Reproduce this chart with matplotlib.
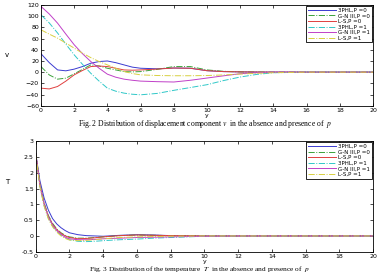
import matplotlib
matplotlib.use('Agg')
import matplotlib.pyplot as plt
import numpy as np

plt.rcParams['mathtext.fontset'] = 'stix'

labels = ['3PHL,P =0', 'G-N III,P =0', 'L-S,P =0', '3PHL,P =1', 'G-N III,P =1', 'L-S,P =1']
colors = ['#3b3bd0', '#3aa23a', '#e04040', '#30c8c8', '#c040c8', '#d8d040']
styles = ['-', '-.', '-', '-.', '-', '-.']

# Fig. 2: displacement v
y_v = [0, 0.5, 1, 1.5, 2, 2.5, 3, 3.5, 4, 4.5, 5, 5.5, 6, 7, 8, 9, 10, 11, 12, 13, 14, 16, 18, 20]
v_3phl_0 = [33, 17, 4, 2.4, 5.4, 10, 16, 19, 20, 17, 13, 9, 7, 6, 7.4, 7, 2.6, 1, 0.5, 0.2, 0, 0, 0, 0]
v_gn_0 = [10, -5, -12.5, -10.7, -3, 5, 13, 11, 7, 4, 1, 0.5, 1, 5, 10, 10, 4, 1.5, 0.5, 0.2, 0, 0, 0, 0]
v_ls_0 = [-28.6, -30, -25.6, -16, -4.8, 3, 10, 11, 10, 7, 4, 3.5, 4, 5.5, 7.4, 7, 2.6, 1, 0.5, 0.2, 0, 0, 0, 0]
v_3phl_1 = [102.5, 88, 70, 50, 31, 14, -2, -16, -28.6, -34, -37.5, -39.5, -40.5, -38, -32.5, -27.5, -22.4, -15, -8.7, -4, -1, 0, 0, 0]
v_gn_1 = [117.6, 104, 87.6, 68, 49, 33, 19, 7, -3.6, -9, -12.5, -14.5, -16, -17, -17.6, -14.5, -10.5, -6.5, -2.8, -1, 0, 0, 0, 0]
v_ls_1 = [75.7, 68, 60.8, 52, 43, 34, 26, 19, 13, 7, 1.2, -2.5, -4.8, -6, -6.4, -6.4, -6, -5, -3.4, -2, -1, 0, 0, 0]

# Fig. 3: temperature T
y_T = [0, 0.25, 0.5, 0.75, 1, 1.25, 1.5, 1.75, 2, 2.5, 3, 3.5, 4, 5, 6, 7, 8, 10, 12, 14, 16, 18, 20]
T_3phl_0 = [2.62, 1.75, 1.2, 0.82, 0.55, 0.38, 0.26, 0.17, 0.1, 0.04, 0.01, 0.0, -0.01, 0.02, 0.04, 0.03, 0.01, 0, 0, 0, 0, 0, 0]
T_gn_0 = [2.62, 1.65, 1.05, 0.65, 0.4, 0.22, 0.1, 0.02, -0.03, -0.07, -0.07, -0.05, -0.03, 0.01, 0.03, 0.02, 0.01, 0, 0, 0, 0, 0, 0]
T_ls_0 = [2.62, 1.62, 1.02, 0.62, 0.37, 0.2, 0.08, 0.0, -0.05, -0.09, -0.08, -0.06, -0.03, 0.01, 0.03, 0.02, 0.01, 0, 0, 0, 0, 0, 0]
T_3phl_1 = [2.6, 1.58, 0.96, 0.56, 0.31, 0.14, 0.03, -0.06, -0.12, -0.17, -0.18, -0.17, -0.15, -0.12, -0.1, -0.07, -0.05, -0.01, 0, 0, 0, 0, 0]
T_gn_1 = [2.62, 1.6, 1.0, 0.6, 0.34, 0.17, 0.05, -0.04, -0.09, -0.12, -0.12, -0.11, -0.09, -0.07, -0.05, -0.04, -0.03, -0.01, 0, 0, 0, 0, 0]
T_ls_1 = [2.6, 1.56, 0.94, 0.54, 0.29, 0.12, 0.0, -0.08, -0.13, -0.15, -0.14, -0.12, -0.09, -0.05, -0.03, -0.02, -0.01, 0, 0, 0, 0, 0, 0]

fig = plt.figure(figsize=(3.83, 2.75), dpi=100)
ax1 = fig.add_axes([0.107, 0.6156, 0.867, 0.366])
ax2 = fig.add_axes([0.0932, 0.0847, 0.8807, 0.4015])

for i, vals in enumerate([v_3phl_0, v_gn_0, v_ls_0, v_3phl_1, v_gn_1, v_ls_1]):
    ax1.plot(y_v, vals, linestyle=styles[i], color=colors[i], lw=0.7, label=labels[i])
for i, vals in enumerate([T_3phl_0, T_gn_0, T_ls_0, T_3phl_1, T_gn_1, T_ls_1]):
    ax2.plot(y_T, vals, linestyle=styles[i], color=colors[i], lw=0.7, label=labels[i])

ax1.set_xlim(0, 20)
ax1.set_ylim(-60, 120)
ax1.set_yticks(np.arange(-60, 121, 20))
ax2.set_xlim(0, 20)
ax2.set_ylim(-0.5, 3)
ax2.set_yticks([-0.5, 0, 0.5, 1, 1.5, 2, 2.5, 3])
ax2.set_yticklabels(['-0.5', '0', '0.5', '1', '1.5', '2', '2.5', '3'])

for ax in (ax1, ax2):
    ax.set_xticks(np.arange(0, 21, 2))
    ax.tick_params(direction='in', top=True, right=True, labelsize=4.5, length=2, width=0.5, pad=1.5)
    for s in ax.spines.values():
        s.set_linewidth(0.6)
    ax.set_xlabel('y', fontsize=4.5, labelpad=0)
    leg = ax.legend(loc='upper right', fontsize=4, handlelength=5, labelspacing=0.1,
                    borderpad=0.3, handletextpad=0.5, borderaxespad=0.2, fancybox=False, framealpha=1)
    leg.get_frame().set_edgecolor('black')
    leg.get_frame().set_linewidth(0.6)

fig.text(0.013, 0.80, 'v', fontsize=5, va='center')
fig.text(0.013, 0.34, 'T', fontsize=5, va='center')

fig.text(0.535, 0.548, 'Fig. 2 Distribution of displacement component $v$  in the absence and presence of  $p$',
         family='Liberation Serif', fontsize=5.5, ha='center', va='center')
fig.text(0.52, 0.004, 'Fig. 3 Distribution of the temperature  $T$  in the absence and presence of  $p$',
         family='Liberation Serif', fontsize=5.3, ha='center', va='bottom')

fig.savefig('out.png', dpi=100)
